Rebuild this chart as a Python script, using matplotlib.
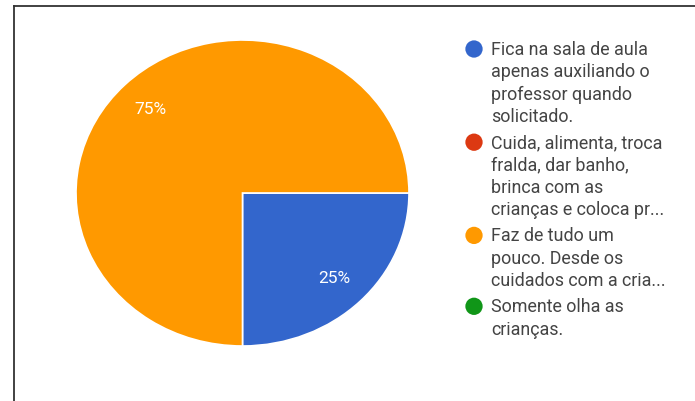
import matplotlib
matplotlib.use("Agg")
import matplotlib.pyplot as plt

plt.rcParams['font.family'] = ['Roboto', 'DejaVu Sans']

# answer shares and legend entries
labels = [
    ["Fica na sala de aula", "apenas auxiliando o", "professor quando", "solicitado."],
    ["Cuida, alimenta, troca", "fralda, dar banho,", "brinca com as", "crianças e coloca pr..."],
    ["Faz de tudo um", "pouco. Desde os", "cuidados com a cria..."],
    ["Somente olha as", "crianças."],
]
shares = [25, 0, 75, 0]
colors = ['#3366cc', '#dc3912', '#ff9900', '#109618']

W, H = 695, 402
fig = plt.figure(figsize=(W / 100, H / 100), dpi=100)

# background layer in pixel coordinates: frame lines and legend
bg = fig.add_axes([0, 0, 1, 1])
bg.set_xlim(0, W)
bg.set_ylim(H, 0)
bg.axis('off')
bg.plot([14, W], [7, 7], color='#333333', lw=1.3)
bg.plot([14, 14], [7, H], color='#333333', lw=1.3)

line_h = 22.3
gap = 4
y = 50
for lab, col in zip(labels, colors):
    bg.scatter([474], [y], s=155, color=col, edgecolors='none')
    for i, line in enumerate(lab):
        bg.text(491, y + i * line_h, line, fontsize=12.9, color='#444444',
                va='center', ha='left')
    y += len(lab) * line_h + gap

# pie, slightly wider than tall
ax = fig.add_axes([76 / W, (H - 347) / H, 333 / W, 306 / H])
nz = [(s, c) for s, c in zip(shares, colors) if s > 0]
wedges, texts, autotexts = ax.pie(
    [s for s, _ in nz], colors=[c for _, c in nz],
    startangle=0, counterclock=False, radius=1,
    autopct='%1.0f%%', pctdistance=0.78,
    wedgeprops=dict(edgecolor='white', linewidth=1.2),
    textprops=dict(color='white', fontsize=12.5))
ax.set_aspect('auto')
ax.set_xlim(-1, 1)
ax.set_ylim(-1, 1)
ax.axis('off')

fig.savefig('out.png', dpi=100)
